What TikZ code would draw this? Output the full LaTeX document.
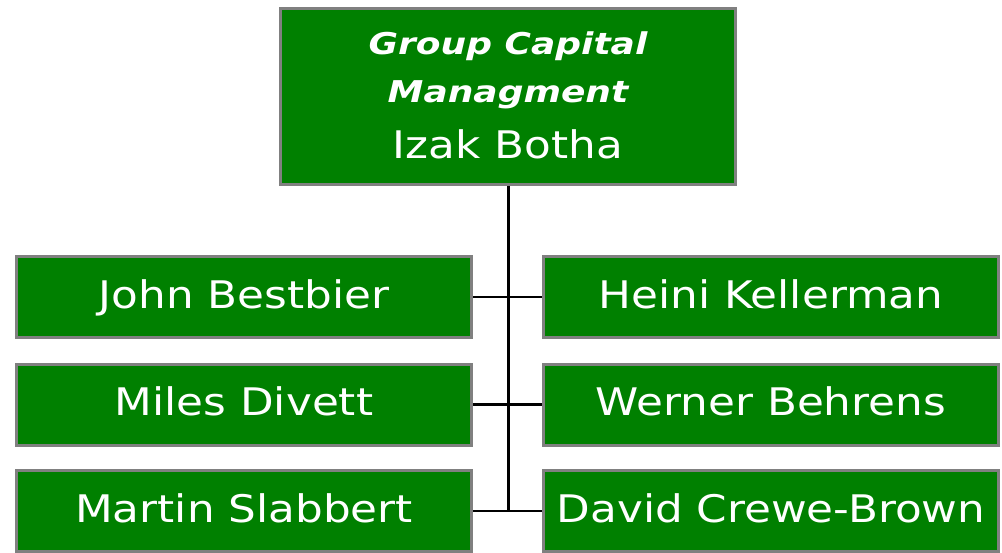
\documentclass[tikz,border=0pt]{standalone}
\usepackage{fontspec}
\setmainfont{DejaVu Sans}[FakeStretch=1.15]
\newfontfamily\titlefont{DejaVu Sans}[FakeStretch=1.2]
\begin{document}
\begin{tikzpicture}[x=1pt,y=1pt,
  box/.style={draw={rgb,255:red,128;green,128;blue,128}, line width=3pt,
    fill={rgb,255:red,0;green,128;blue,0}, inner sep=0pt,
    minimum width=455pt, minimum height=81pt, text=white,
    text height=22pt, text depth=0pt,
    font=\fontsize{38}{44}\selectfont},
  link/.style={draw=black, line width=2.5pt},
  label/.style={text=white, inner sep=0pt, anchor=base}]
\useasboundingbox (0,0) rectangle (1002,-552);
% head of the group
\node[box, minimum height=176pt] (head) at (508,-96.5) {};
\node[label, font=\titlefont\fontsize{30}{34}\selectfont\bfseries\itshape] (t1) at (508,-54) {Group Capital};
\node[label, font=\titlefont\fontsize{30}{34}\selectfont\bfseries\itshape] (t2) at (508,-102) {Managment};
\node[label, font=\fontsize{38}{44}\selectfont] (t3) at (508,-158) {Izak Botha};
% team members
\node[box] (l1) at (244,-297) {John Bestbier};
\node[box] (l2) at (244,-404.5) {Miles Divett};
\node[box] (l3) at (244,-511) {Martin Slabbert};
\node[box] (r1) at (771,-297) {Heini Kellerman};
\node[box] (r2) at (771,-404.5) {Werner Behrens};
\node[box] (r3) at (771,-511) {David Crewe-Brown};
% connectors
\coordinate (trunkend) at (508,-511);
\draw[link, line width=3pt] (head.south) -- (trunkend);
\draw[link] (l1.east) -- (r1.west);
\draw[link] (l2.east) -- (r2.west);
\draw[link] (l3.east) -- (r3.west);
\end{tikzpicture}
\end{document}
